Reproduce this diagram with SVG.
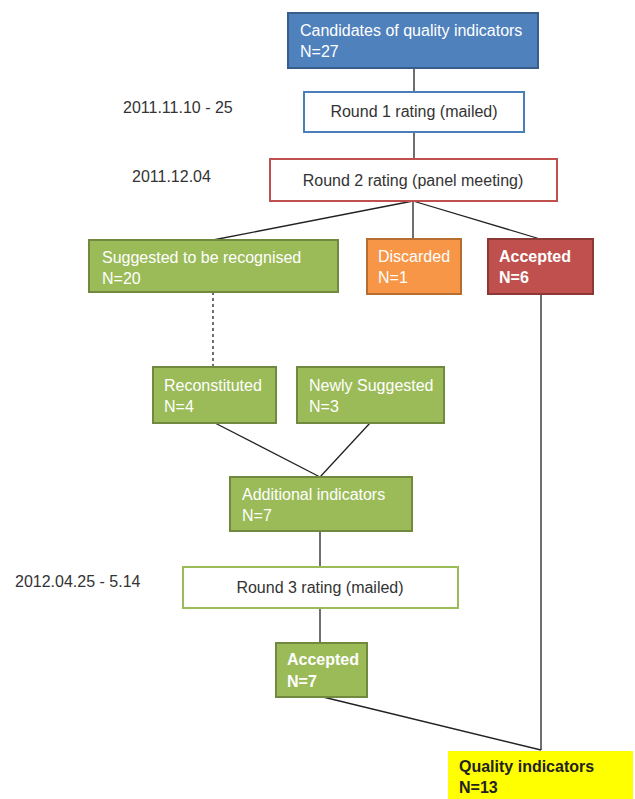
<svg xmlns="http://www.w3.org/2000/svg" width="635" height="799" viewBox="0 0 635 799">
<style>
text{font-family:"Liberation Sans",Arial,sans-serif;font-size:16px}
.w{fill:#fff}
.d{fill:#333}
.b{font-weight:bold}
.c{text-anchor:middle}
.ln{stroke:#222;stroke-width:1.3;fill:none}
</style>
<rect width="635" height="799" fill="#fff"/>
<g id="connectors">
<line class="ln" x1="414" y1="68" x2="414" y2="92"/>
<line class="ln" x1="414" y1="132" x2="414" y2="159"/>
<line class="ln" x1="413" y1="201" x2="213" y2="240"/>
<line class="ln" x1="413" y1="201" x2="413" y2="239"/>
<line class="ln" x1="413" y1="201" x2="540" y2="239"/>
<line class="ln" x1="213" y1="292" x2="213" y2="367" stroke-dasharray="3,3"/>
<line class="ln" x1="215" y1="423" x2="320" y2="477"/>
<line class="ln" x1="370" y1="423" x2="320" y2="477"/>
<line class="ln" x1="320" y1="531" x2="320" y2="567"/>
<line class="ln" x1="320" y1="608" x2="320" y2="643"/>
<line class="ln" x1="541" y1="294" x2="541" y2="750"/>
<line class="ln" x1="323" y1="697" x2="541" y2="750"/>
</g>
<g id="dates">
<text class="d" x="123" y="113">2011.11.10 - 25</text>
<text class="d" x="132" y="182">2011.12.04</text>
<text class="d" x="15" y="587">2012.04.25 - 5.14</text>
</g>
<g id="candidates">
<rect x="288" y="13" width="250" height="55" fill="#4F81BD" stroke="#385D8A" stroke-width="2"/>
<text class="w" x="300" y="36">Candidates of quality indicators</text>
<text class="w" x="300" y="57">N=27</text>
</g>
<g id="round1">
<rect x="304" y="92" width="220" height="40" fill="#fff" stroke="#4A7EBB" stroke-width="2"/>
<text class="d c" x="414" y="117">Round 1 rating (mailed)</text>
</g>
<g id="round2">
<rect x="270" y="159" width="287" height="42" fill="#fff" stroke="#C0504D" stroke-width="2"/>
<text class="d c" x="413" y="186">Round 2 rating (panel meeting)</text>
</g>
<g id="suggested">
<rect x="89" y="240" width="249" height="52" fill="#9BBB59" stroke="#71893F" stroke-width="2"/>
<text class="w" x="102" y="263">Suggested to be recognised</text>
<text class="w" x="102" y="284">N=20</text>
</g>
<g id="discarded">
<rect x="367" y="239" width="94" height="55" fill="#F79646" stroke="#B66D31" stroke-width="2"/>
<text class="w" x="378" y="262">Discarded</text>
<text class="w" x="378" y="283">N=1</text>
</g>
<g id="accepted1">
<rect x="488" y="239" width="105" height="55" fill="#C0504D" stroke="#8C3836" stroke-width="2"/>
<text class="w b" x="499" y="262">Accepted</text>
<text class="w b" x="499" y="283">N=6</text>
</g>
<g id="reconstituted">
<rect x="153" y="367" width="123" height="56" fill="#9BBB59" stroke="#71893F" stroke-width="2"/>
<text class="w" x="164" y="391">Reconstituted</text>
<text class="w" x="164" y="412">N=4</text>
</g>
<g id="newly">
<rect x="297" y="367" width="147" height="56" fill="#9BBB59" stroke="#71893F" stroke-width="2"/>
<text class="w" x="309" y="391">Newly Suggested</text>
<text class="w" x="309" y="412">N=3</text>
</g>
<g id="additional">
<rect x="230" y="477" width="182" height="54" fill="#9BBB59" stroke="#71893F" stroke-width="2"/>
<text class="w" x="242" y="500">Additional indicators</text>
<text class="w" x="242" y="521">N=7</text>
</g>
<g id="round3">
<rect x="183" y="567" width="275" height="41" fill="#fff" stroke="#9BBB59" stroke-width="2"/>
<text class="d c" x="320" y="593">Round 3 rating (mailed)</text>
</g>
<g id="accepted2">
<rect x="276" y="643" width="91" height="54" fill="#9BBB59" stroke="#71893F" stroke-width="2"/>
<text class="w b" x="287" y="665">Accepted</text>
<text class="w b" x="287" y="687">N=7</text>
</g>
<g id="quality">
<rect x="448" y="751" width="185" height="48" fill="#FFFF00"/>
<text class="b" fill="#222" x="459" y="772">Quality indicators</text>
<text class="b" fill="#222" x="459" y="793">N=13</text>
</g>
</svg>
